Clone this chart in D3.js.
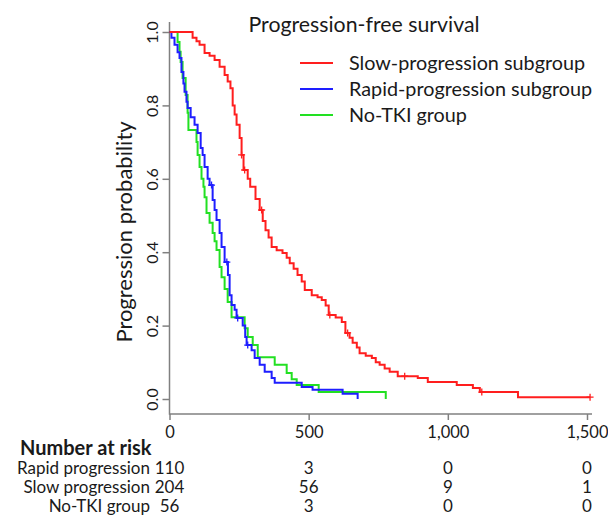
<!DOCTYPE html>
<html>
<head>
<meta charset="utf-8">
<script src="https://cdn.jsdelivr.net/npm/d3@7"></script>
<style>
body { margin: 0; background: #fff; }
svg text { font-family: Lato, "Open Sans", sans-serif; fill: #1a1a1a; }
</style>
</head>
<body>
<div id="chart"></div>
<script>
'use strict';

// one [day, probability] pair per drop of each Kaplan-Meier curve
var slowSteps = [
    [83, 0.984], [97, 0.975], [108, 0.965], [126, 0.943], [144, 0.935], [162, 0.924],
    [180, 0.905], [198, 0.883], [209, 0.865], [219, 0.847], [227, 0.80], [234, 0.775],
    [241, 0.747], [252, 0.711], [259, 0.665], [266, 0.624], [281, 0.60], [290, 0.578],
    [309, 0.545], [324, 0.515], [335, 0.485], [345, 0.46], [356, 0.44], [367, 0.414],
    [385, 0.405], [406, 0.398], [421, 0.385], [432, 0.37], [446, 0.355], [460, 0.338],
    [475, 0.32], [486, 0.297], [511, 0.283], [532, 0.277], [547, 0.27], [561, 0.255],
    [572, 0.229], [597, 0.222], [619, 0.21], [632, 0.18], [647, 0.167], [658, 0.153],
    [673, 0.14], [683, 0.125], [705, 0.118], [727, 0.112], [741, 0.10], [755, 0.093],
    [773, 0.083], [791, 0.074], [820, 0.062], [892, 0.057], [928, 0.046], [1032, 0.038],
    [1090, 0.030], [1115, 0.019], [1252, 0.005]
];
var rapidSteps = [
    [7, 0.984], [18, 0.965], [29, 0.945], [36, 0.929], [43, 0.891], [50, 0.86],
    [54, 0.837], [61, 0.81], [65, 0.793], [76, 0.768], [90, 0.747], [101, 0.725],
    [112, 0.684], [119, 0.665], [126, 0.632], [137, 0.60], [144, 0.583], [155, 0.542],
    [162, 0.515], [169, 0.488], [180, 0.452], [187, 0.414], [198, 0.373], [210, 0.338],
    [216, 0.283], [223, 0.256], [234, 0.243], [241, 0.221], [263, 0.2], [272, 0.169],
    [277, 0.147], [295, 0.133], [306, 0.112], [324, 0.093], [342, 0.074], [367, 0.057],
    [378, 0.044], [475, 0.033], [514, 0.025], [622, 0.014], [676, 0]
];
var noTkiSteps = [
    [29, 0.973], [36, 0.946], [40, 0.918], [47, 0.875], [58, 0.828], [65, 0.78],
    [68, 0.733], [97, 0.70], [101, 0.665], [108, 0.632], [115, 0.60], [122, 0.578],
    [126, 0.55], [133, 0.507], [144, 0.48], [155, 0.452], [162, 0.43], [169, 0.406],
    [180, 0.36], [187, 0.332], [198, 0.30], [209, 0.264], [223, 0.223], [270, 0.193],
    [281, 0.169], [299, 0.147], [317, 0.114], [378, 0.093], [421, 0.071], [439, 0.054],
    [457, 0.038], [536, 0.019], [777, 0]
];

// censored observations (small crosses) and last follow-up day
var slowCensor = [259, 270, 331, 576, 640, 845, 1122, 1511];
var rapidCensor = [151, 206, 245, 281];
var noTkiCensor = [];
var slowEnd = 1511, rapidEnd = 676, noTkiEnd = 777;

var xTicks = [0, 500, 1000, 1500];
var yTicks = [0, 0.2, 0.4, 0.6, 0.8, 1.0];

var groupNames = ['Slow-progression subgroup', 'Rapid-progression subgroup', 'No-TKI group'];
var groupColors = ['#ff1e1e', '#1e1eff', '#22e022'];

var riskLabels = ['Rapid progression', 'Slow progression', 'No-TKI group'];
var riskRapid = [110, 3, 0, 0];
var riskSlow = [204, 56, 9, 1];
var riskNoTki = [56, 3, 0, 0];

function kmCurve () {
    var x = null,
        y = null,
        color = '#000',
        cross = 3.5;

    var line = d3.line()
        .x(function (d) { return x(d[0]); })
        .y(function (d) { return y(d[1]); })
        .curve(d3.curveStepAfter);

    // survival value in force at day t
    function valueAt (steps, t) {
        var v = 1;
        steps.forEach(function (s) { if (s[0] <= t) v = s[1]; });
        return v;
    }

    function my (selection) {
        selection.each(function (d) {
            var g = d3.select(this);
            var last = d.steps[d.steps.length - 1][1];
            var pts = [[0, 1]].concat(d.steps).concat([[d.end, last]]);

            g.append('path')
                .attr('d', line(pts))
                .attr('fill', 'none')
                .attr('stroke', color)
                .attr('stroke-width', 2);

            g.selectAll('path.censor')
                .data(d.censor)
                .enter().append('path')
                .attr('class', 'censor')
                .attr('d', function (t) {
                    var cx = x(t), cy = y(valueAt(d.steps, t));
                    return 'M' + (cx - cross) + ',' + cy + 'H' + (cx + cross) +
                        'M' + cx + ',' + (cy - cross) + 'V' + (cy + cross);
                })
                .attr('fill', 'none')
                .attr('stroke', color)
                .attr('stroke-width', 1.3);
        });
    }

    my.x = function (_) { if (!arguments.length) return x; x = _; return my; };
    my.y = function (_) { if (!arguments.length) return y; y = _; return my; };
    my.color = function (_) { if (!arguments.length) return color; color = _; return my; };

    return my;
}

var width = 608, height = 516;

var svg = d3.select('#chart').append('svg')
    .attr('width', width)
    .attr('height', height);

var xScale = d3.scaleLinear().domain([0, 1500]).range([169.5, 587]);
var yScale = d3.scaleLinear().domain([0, 1]).range([399, 32]);

// AXES
var axisColor = '#808080';

var xAxis = svg.append('g')
    .attr('transform', 'translate(0,414)')
    .call(d3.axisBottom(xScale).tickValues(xTicks).tickFormat(d3.format(',')).tickSize(6).tickPadding(6));
xAxis.select('.domain').remove();
xAxis.selectAll('line').attr('stroke', axisColor).attr('stroke-width', 1.5);
xAxis.selectAll('text')
    .attr('font-size', 16.5)
    .style('font-family', 'Lato, sans-serif');
xAxis.append('line')
    .attr('x1', 169.5).attr('x2', 592)
    .attr('stroke', axisColor).attr('stroke-width', 1.5);

var yAxis = svg.append('g')
    .attr('transform', 'translate(169.5,0)')
    .call(d3.axisLeft(yScale).tickValues(yTicks).tickFormat(d3.format('.1f')).tickSize(7));
yAxis.select('.domain').remove();
yAxis.selectAll('line').attr('stroke', axisColor).attr('stroke-width', 1.5);
yAxis.selectAll('text')
    .attr('transform', 'rotate(-90)')
    .attr('x', 0)
    .attr('y', -12)
    .attr('dy', 0)
    .attr('font-size', 16)
    .style('text-anchor', 'middle');
yAxis.append('line')
    .attr('y1', 22).attr('y2', 414.75)
    .attr('stroke', axisColor).attr('stroke-width', 1.5);

svg.append('text')
    .attr('transform', 'translate(132,232) rotate(-90)')
    .attr('text-anchor', 'middle')
    .attr('font-size', 22)
    .text('Progression probability');

// CURVES (green under blue under red)
var groups = [
    {steps: noTkiSteps, censor: noTkiCensor, end: noTkiEnd, color: groupColors[2]},
    {steps: rapidSteps, censor: rapidCensor, end: rapidEnd, color: groupColors[1]},
    {steps: slowSteps, censor: slowCensor, end: slowEnd, color: groupColors[0]}
];

groups.forEach(function (grp) {
    svg.append('g')
        .datum(grp)
        .call(kmCurve().x(xScale).y(yScale).color(grp.color));
});

// TITLE + LEGEND
svg.append('text')
    .attr('x', 364)
    .attr('y', 32)
    .attr('text-anchor', 'middle')
    .attr('font-size', 21.3)
    .text('Progression-free survival');

var legend = svg.append('g')
    .selectAll('g')
    .data(groupNames)
    .enter().append('g')
    .attr('transform', function (d, i) { return 'translate(300,' + (63 + i * 26) + ')'; });

legend.append('line')
    .attr('x1', 0).attr('x2', 33)
    .attr('stroke', function (d, i) { return groupColors[i]; })
    .attr('stroke-width', 2);

legend.append('text')
    .attr('x', 49)
    .attr('dy', '0.35em')
    .attr('font-size', 19.8)
    .text(function (d) { return d; });

// NUMBER AT RISK
svg.append('text')
    .attr('x', 20)
    .attr('y', 455)
    .attr('font-size', 20)
    .attr('font-weight', 'bold')
    .text('Number at risk');

var riskRows = [riskRapid, riskSlow, riskNoTki];

var rows = svg.append('g')
    .selectAll('g')
    .data(riskRows)
    .enter().append('g')
    .attr('transform', function (d, i) { return 'translate(0,' + (474 + i * 19) + ')'; });

rows.append('text')
    .attr('x', 150)
    .attr('text-anchor', 'end')
    .attr('font-size', 17)
    .text(function (d, i) { return riskLabels[i]; });

rows.selectAll('text.n')
    .data(function (d) { return d; })
    .enter().append('text')
    .attr('class', 'n')
    .attr('x', function (d, i) { return xScale(xTicks[i]); })
    .attr('text-anchor', 'middle')
    .attr('font-size', 17)
    .text(function (d) { return d; });
</script>
</body>
</html>
